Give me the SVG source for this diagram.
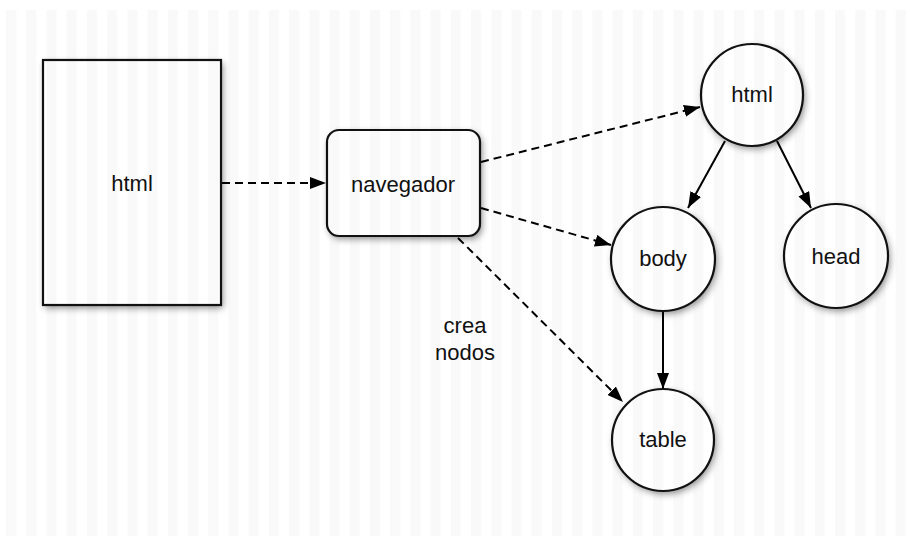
<svg xmlns="http://www.w3.org/2000/svg" width="911" height="537" viewBox="0 0 911 537">
  <defs>
    <pattern id="stripes" x="6" y="0" width="20.22" height="20" patternUnits="userSpaceOnUse">
      <rect x="0" y="0" width="10" height="20" fill="#000" fill-opacity="0.024"/>
    </pattern>
    <filter id="soft" x="-20%" y="-20%" width="150%" height="150%">
      <feGaussianBlur stdDeviation="3.5"/>
    </filter>
    <marker id="head" viewBox="0 0 16 12" refX="16" refY="6" markerWidth="16" markerHeight="12" markerUnits="userSpaceOnUse" orient="auto">
      <path d="M0,0 L16,6 L0,12 Z" fill="#000"/>
    </marker>
    <style>
      .shadow { fill: #000; fill-opacity: 0.45; filter: url(#soft); }
      .fill { fill: #fff; }
      .outline { fill: none; stroke: #111; stroke-width: 2.2; }
      .link { fill: none; stroke: #000; stroke-width: 2; marker-end: url(#head); }
      .dash { stroke-dasharray: 8 5; }
      text { font-family: "Liberation Sans", Arial, sans-serif; font-size: 22px; fill: #111; text-anchor: middle; }
    </style>
  </defs>

  <!-- page -->
  <rect width="911" height="537" fill="#fff"/>

  <!-- soft shadows under the shapes -->
  <g id="shadows">
    <rect class="shadow" x="45" y="63" width="178" height="245"/>
    <rect class="shadow" x="329" y="133" width="153" height="106" rx="12"/>
    <circle class="shadow" cx="754" cy="98" r="51"/>
    <circle class="shadow" cx="665" cy="262" r="52"/>
    <circle class="shadow" cx="838" cy="259" r="52"/>
    <circle class="shadow" cx="665" cy="443" r="51"/>
  </g>

  <!-- white bodies of the shapes -->
  <g id="fills">
    <rect class="fill" x="43" y="60" width="178" height="245"/>
    <rect class="fill" x="327" y="130" width="153" height="106" rx="12"/>
    <circle class="fill" cx="752" cy="95" r="51"/>
    <circle class="fill" cx="663" cy="259" r="52"/>
    <circle class="fill" cx="836" cy="256" r="52"/>
    <circle class="fill" cx="663" cy="440" r="51"/>
  </g>

  <!-- pinstripe paper -->
  <rect x="0" y="10" width="911" height="526" fill="url(#stripes)"/>

  <g id="connectors">
    <line class="link dash" x1="222" y1="183" x2="326" y2="183"/>
    <line class="link dash" x1="481" y1="162" x2="700" y2="107"/>
    <line class="link dash" x1="481" y1="208" x2="611" y2="245"/>
    <line class="link dash" x1="458" y1="238" x2="623" y2="402"/>
    <line class="link" x1="725" y1="141" x2="688" y2="208"/>
    <line class="link" x1="777" y1="141" x2="811" y2="208"/>
    <line class="link" x1="663" y1="311" x2="663" y2="389"/>
  </g>

  <g id="html-file">
    <rect class="outline" x="43" y="60" width="178" height="245"/>
    <text x="132" y="191">html</text>
  </g>

  <g id="navegador">
    <rect class="outline" x="327" y="130" width="153" height="106" rx="12"/>
    <text x="403" y="192">navegador</text>
  </g>

  <g id="node-html">
    <circle class="outline" cx="752" cy="95" r="51"/>
    <text x="752" y="102">html</text>
  </g>

  <g id="node-body">
    <circle class="outline" cx="663" cy="259" r="52"/>
    <text x="663" y="266">body</text>
  </g>

  <g id="node-head">
    <circle class="outline" cx="836" cy="256" r="52"/>
    <text x="836" y="264">head</text>
  </g>

  <g id="node-table">
    <circle class="outline" cx="663" cy="440" r="51"/>
    <text x="663" y="447">table</text>
  </g>

  <g id="label">
    <text x="465" y="333">crea</text>
    <text x="465" y="360">nodos</text>
  </g>
</svg>
